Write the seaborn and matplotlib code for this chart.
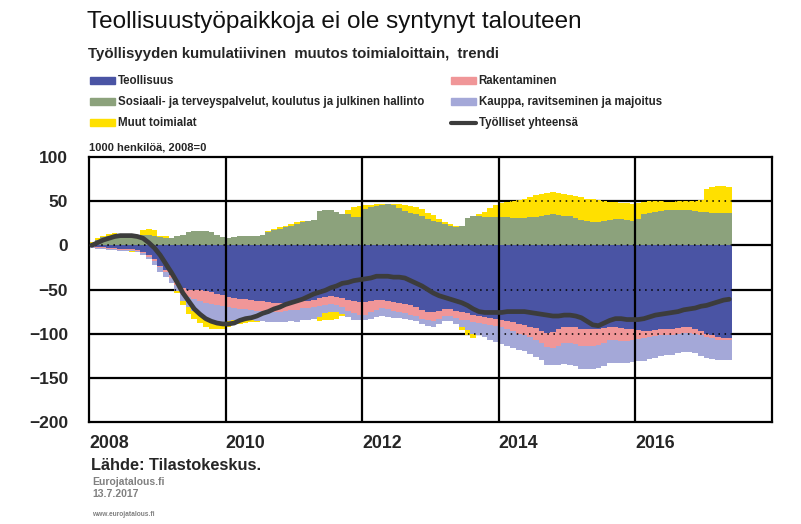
import numpy as np
import pandas as pd
import matplotlib
matplotlib.use('Agg')
import matplotlib.pyplot as plt
import seaborn as sns
from matplotlib.patches import Patch
from matplotlib.lines import Line2D

# Monthly data Jan 2008 - May 2017, 1000 persons, cumulative change (2008=0)
teollisuus = [-1, -2, -2, -3, -3, -4, -4, -4, -5, -7,
              -11, -16, -23, -28, -34, -41, -48, -50, -50, -51,
              -52, -53, -55, -56, -58, -60, -61, -61, -62, -63,
              -63, -64, -65, -65, -65, -64, -64, -63, -63, -62,
              -60, -58, -57, -58, -60, -62, -63, -64, -64, -63,
              -62, -62, -63, -64, -65, -66, -68, -70, -73, -75,
              -76, -74, -72, -72, -74, -76, -77, -79, -80, -81,
              -82, -83, -84, -86, -87, -89, -90, -92, -94, -97,
              -99, -98, -95, -93, -92, -93, -95, -95, -95, -95,
              -94, -92, -93, -94, -95, -95, -96, -97, -97, -96,
              -95, -95, -95, -94, -93, -93, -95, -97, -100, -102,
              -104, -105, -105]
rakentaminen = [-1, -1, -1, -1, -1, -1, -1, -1, -1, -2,
                -2, -2, -2, -2, -3, -4, -7, -9, -11, -12,
                -13, -13, -13, -13, -12, -11, -11, -11, -11, -11,
                -11, -11, -10, -10, -9, -9, -9, -8, -8, -8,
                -9, -9, -9, -9, -10, -12, -14, -15, -15, -13,
                -11, -9, -9, -10, -10, -11, -11, -10, -10, -10,
                -10, -9, -8, -8, -8, -8, -8, -8, -8, -8,
                -8, -8, -9, -9, -10, -11, -11, -12, -13, -14,
                -16, -18, -19, -17, -18, -19, -19, -19, -19, -18,
                -17, -15, -14, -14, -13, -12, -10, -8, -7, -7,
                -6, -6, -6, -6, -6, -6, -5, -5, -4, -3,
                -3, -2, -2]
kauppa = [-1, -1, -1, -1, -1, -1, -1, -1, -1, -2,
          -3, -4, -5, -6, -6, -7, -8, -11, -13, -15,
          -17, -18, -18, -18, -16, -14, -13, -13, -12, -12,
          -12, -12, -12, -12, -13, -13, -14, -14, -14, -13,
          -12, -10, -9, -9, -8, -7, -7, -6, -6, -7,
          -8, -9, -9, -8, -7, -6, -6, -6, -6, -6,
          -6, -6, -6, -6, -7, -9, -11, -13, -14, -15,
          -17, -18, -19, -19, -19, -19, -19, -19, -19, -19,
          -20, -20, -21, -24, -25, -25, -26, -26, -26, -26,
          -26, -26, -26, -25, -25, -25, -25, -26, -25, -24,
          -24, -23, -23, -22, -22, -22, -22, -23, -24, -24,
          -23, -23, -23]
sosiaali = [3, 6, 9, 11, 12, 12, 12, 12, 12, 12,
            12, 11, 9, 8, 8, 10, 12, 15, 16, 16,
            16, 15, 12, 9, 8, 9, 10, 10, 11, 10,
            12, 15, 17, 19, 21, 22, 24, 26, 27, 29,
            39, 40, 40, 38, 36, 35, 32, 32, 41, 43,
            45, 46, 47, 46, 42, 39, 37, 35, 33, 30,
            28, 26, 24, 22, 21, 22, 31, 33, 33, 32,
            32, 32, 32, 32, 31, 31, 31, 32, 32, 33,
            34, 35, 34, 33, 33, 31, 29, 27, 26, 26,
            27, 29, 30, 30, 29, 28, 30, 36, 37, 38,
            39, 40, 40, 40, 40, 40, 39, 38, 38, 37,
            37, 37, 37]
muut = [1, 2, 2, 2, 2, 1, 0, -1, -1, 5,
        6, 6, 2, 2, 0, -2, -5, -8, -9, -10,
        -11, -11, -9, -8, -6, -4, -4, -3, -2, -1,
        0, 1, 2, 2, 1, 2, 2, 2, 1, 0,
        -5, -8, -9, -7, -2, 5, 11, 12, 5, 3,
        2, 1, 0, 1, 5, 7, 8, 8, 8, 7,
        6, 4, 2, 2, 1, -3, -5, -5, 3, 6,
        10, 14, 16, 17, 19, 20, 22, 23, 25, 25,
        25, 25, 25, 25, 24, 25, 26, 26, 26, 25,
        23, 20, 19, 18, 19, 19, 18, 13, 13, 12,
        11, 9, 9, 10, 10, 10, 11, 13, 26, 29,
        30, 30, 29]
yhteensa = [0, 3, 6, 8, 10, 11, 11, 11, 10, 8,
            3, -3, -11, -21, -31, -42, -54, -63, -72, -78,
            -83, -86, -88, -89, -89, -88, -85, -83, -82, -80,
            -77, -75, -72, -70, -67, -65, -63, -61, -58, -55,
            -53, -51, -48, -46, -43, -42, -40, -39, -38, -37,
            -35, -35, -35, -36, -36, -37, -40, -43, -46, -50,
            -54, -57, -59, -61, -63, -65, -68, -72, -75, -76,
            -76, -76, -76, -75, -75, -75, -75, -76, -77, -78,
            -79, -80, -80, -79, -79, -80, -82, -86, -90, -91,
            -88, -85, -83, -83, -84, -84, -84, -83, -81, -79,
            -78, -77, -76, -75, -73, -72, -71, -69, -68, -66,
            -64, -62, -61]

labels = ['Teollisuus', 'Rakentaminen',
          'Sosiaali- ja terveyspalvelut, koulutus ja julkinen hallinto',
          'Kauppa, ravitseminen ja majoitus', 'Muut toimialat', 'Työlliset yhteensä']
year_ticks = [2008, 2010, 2012, 2014, 2016]
y_ticks = [-200, -150, -100, -50, 0, 50, 100]

colors = {'T': '#4A54A4', 'R': '#F09698', 'S': '#8CA27C',
          'K': '#A4A8D8', 'M': '#FFE000', 'L': '#3C3C3C'}

sns.set_style('white')
plt.rcParams['font.family'] = ['Liberation Sans', 'DejaVu Sans']

n = len(teollisuus)
df = pd.DataFrame({'T': teollisuus, 'R': rakentaminen, 'K': kauppa,
                   'S': sosiaali, 'M': muut, 'L': yhteensa})
df['x'] = 2008 + np.arange(n) / 12
df['xm'] = df['x'] + 0.5 / 12
m_pos = df['M'].clip(lower=0)
m_neg = df['M'].clip(upper=0)

fig = plt.figure(figsize=(8.01, 5.24), dpi=100)
ax = fig.add_axes([89 / 801, 102 / 524, 683 / 801, 265 / 524])

# background solid grid
for y in [50, 0, -50, -100, -150]:
    ax.axhline(y, color='black', lw=1.6, zorder=0.5)

w = 1 / 12
kw = dict(width=w, align='edge', linewidth=0, zorder=2)
ax.bar(df['x'], df['S'], color=colors['S'], **kw)
ax.bar(df['x'], m_pos, bottom=df['S'], color=colors['M'], **kw)
ax.bar(df['x'], df['T'], color=colors['T'], **kw)
ax.bar(df['x'], df['R'], bottom=df['T'], color=colors['R'], **kw)
ax.bar(df['x'], df['K'], bottom=df['T'] + df['R'], color=colors['K'], **kw)
ax.bar(df['x'], m_neg, bottom=df['T'] + df['R'] + df['K'], color=colors['M'], **kw)

# dotted grid over the bars
for y in [50, 0, -50, -100, -150]:
    ax.axhline(y, color='black', lw=1.1, ls=(0, (1, 3)), zorder=3)
for xv in year_ticks[1:]:
    ax.axvline(xv, color='black', lw=1.6, zorder=3.5)

sns.lineplot(data=df, x='xm', y='L', color=colors['L'], lw=3.4, ax=ax, zorder=4)

ax.set_xlim(2008, 2018)
ax.set_ylim(-200, 100)
ax.set_xlabel('')
ax.set_ylabel('')
ax.set_xticks(year_ticks)
ax.set_xticklabels([str(v) for v in year_ticks], fontsize=12.8, fontweight='bold', ha='left')
ax.set_yticks(y_ticks)
ax.set_yticklabels([str(v).replace('-', '\u2212') for v in y_ticks], fontsize=12.5, fontweight='bold')
ax.tick_params(axis='x', length=0, pad=9)
ax.tick_params(axis='y', length=0, pad=15)
for sp in ax.spines.values():
    sp.set_visible(True)
    sp.set_color('black')
    sp.set_linewidth(1.6)

# texts
fig.text(87 / 801, 1 - 22 / 524, 'Teollisuustyöpaikkoja ei ole syntynyt talouteen',
         fontsize=17.5, va='center', ha='left', color='#111111')
fig.text(88 / 801, 1 - 54 / 524, 'Työllisyyden kumulatiivinen  muutos toimialoittain,  trendi',
         fontsize=10.8, fontweight='bold', va='center', ha='left')
fig.text(89 / 801, 1 - 147 / 524, '1000 henkilöä, 2008=0',
         fontsize=8, fontweight='bold', va='center', ha='left')
fig.text(91 / 801, 1 - 466 / 524, 'Lähde: Tilastokeskus.',
         fontsize=11.8, fontweight='bold', va='center', ha='left')
fig.text(92 / 801, 1 - 482 / 524, 'Eurojatalous.fi',
         fontsize=7.5, color='#808080', fontweight='bold', va='center', ha='left')
fig.text(92 / 801, 1 - 494 / 524, '13.7.2017',
         fontsize=7.5, color='#808080', fontweight='bold', va='center', ha='left')
fig.text(92 / 801, 1 - 515 / 524, 'www.eurojatalous.fi',
         fontsize=4.8, color='#808080', fontweight='bold', va='center', ha='left')

# legend in two columns
h1 = [Patch(color=colors['T']), Patch(color=colors['S']), Patch(color=colors['M'])]
h2 = [Patch(color=colors['R']), Patch(color=colors['K']),
      Line2D([], [], color=colors['L'], lw=3)]
lkw = dict(loc='upper left', frameon=False, borderpad=0, borderaxespad=0,
           handlelength=2.2, handleheight=0.5, handletextpad=0.2,
           labelspacing=0.78, prop={'weight': 'bold', 'size': 8.3})
leg1 = fig.legend(h1, [labels[0], labels[2], labels[4]],
                  bbox_to_anchor=(90 / 801, 1 - 75.5 / 524), **lkw)
leg2 = fig.legend(h2, [labels[1], labels[3], labels[5]],
                  bbox_to_anchor=(451 / 801, 1 - 75.5 / 524), **lkw)

fig.savefig('out.png', dpi=100)
